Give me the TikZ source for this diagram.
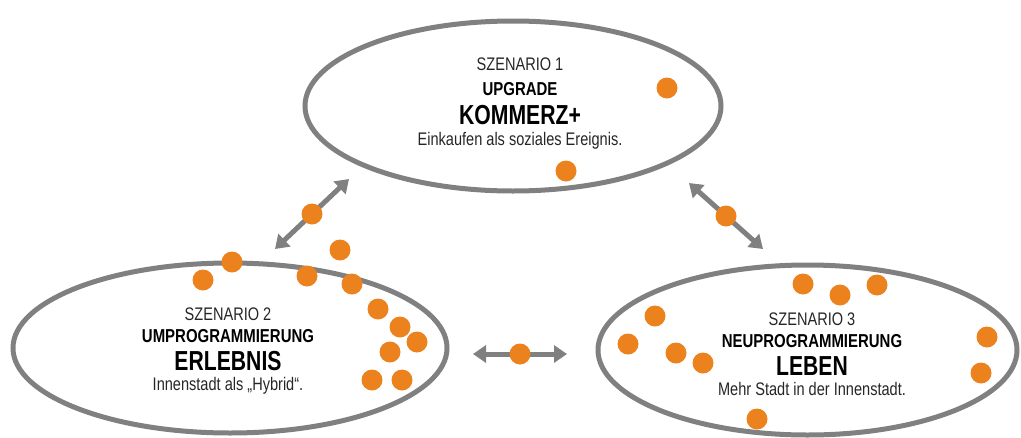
\documentclass[tikz,border=0pt]{standalone}
\usepackage{fontspec}
\setmainfont[FakeStretch=0.8]{Liberation Sans}
\newfontfamily\titlefont[FakeStretch=0.77]{Liberation Sans}
\usetikzlibrary{shapes.geometric,arrows.meta}
\definecolor{rimgray}{RGB}{128,128,128}
\definecolor{dotorange}{RGB}{236,130,30}
\definecolor{txtgray}{RGB}{38,38,38}

\begin{document}
\begin{tikzpicture}
  [x=1pt,y=-1pt,
  scen/.style={ellipse,draw=rimgray,line width=5pt,inner sep=0pt,
    minimum width=#1,minimum height=170pt},
  dot/.style={circle,fill=dotorange,inner sep=0pt,minimum size=21pt},
  arr/.style={draw=rimgray,line width=5pt,
    {Triangle[length=13pt,width=17pt]}-{Triangle[length=13pt,width=17pt]}},
  num/.style={anchor=base,text=txtgray,font=\fontsize{18.2}{20}\selectfont},
  sub/.style={anchor=base,text=black,font=\fontsize{18.7}{20}\selectfont\bfseries},
  title/.style={anchor=base,text=black,font=\titlefont\fontsize{27.5}{30}\selectfont\bfseries},
  desc/.style={anchor=base,text=txtgray,font=\fontsize{18.2}{20}\selectfont}]
  \useasboundingbox (0,0) rectangle (1021,437);

  % the three scenarios
  \node[scen=416pt] (s1) at (513,106) {};
  \node[scen=434pt] (s2) at (230,348) {};
  \node[scen=419pt] (s3) at (807.5,350) {};

  \node[num]   (s1num)   at (520,70)  {SZENARIO 1};
  \node[sub]   (s1sub)   at (520,95)  {UPGRADE};
  \node[title] (s1title) at (520,124) {KOMMERZ+};
  \node[desc]  (s1desc)  at (520,145) {Einkaufen als soziales Ereignis.};

  \node[num]   (s2num)   at (228,320) {SZENARIO 2};
  \node[sub]   (s2sub)   at (228,342) {UMPROGRAMMIERUNG};
  \node[title] (s2title) at (228,370) {ERLEBNIS};
  \node[desc]  (s2desc)  at (228,390) {Innenstadt als „Hybrid“.};

  \node[num]   (s3num)   at (812,325) {SZENARIO 3};
  \node[sub]   (s3sub)   at (812,347) {NEUPROGRAMMIERUNG};
  \node[title] (s3title) at (812,375) {LEBEN};
  \node[desc]  (s3desc)  at (812,395) {Mehr Stadt in der Innenstadt.};

  % transitions
  \coordinate (p21) at (275,249);
  \coordinate (p12) at (349,179);
  \coordinate (p13) at (689,183);
  \coordinate (p31) at (763,249);
  \coordinate (p23) at (473,354);
  \coordinate (p32) at (567,354);
  \draw[arr] (p21) -- node[dot] (k12) {} (p12);
  \draw[arr] (p13) -- node[dot] (k13) {} (p31);
  \draw[arr] (p23) -- node[dot] (k23) {} (p32);

  % dots, scenario 1
  \node[dot] (d1a) at (667,88) {};
  \node[dot] (d1b) at (566,171) {};

  % dots, scenario 2
  \node[dot] (d2a) at (203,280) {};
  \node[dot] (d2b) at (232,262) {};
  \node[dot] (d2c) at (307,276) {};
  \node[dot] (d2d) at (340,250) {};
  \node[dot] (d2e) at (352,284) {};
  \node[dot] (d2f) at (378,309) {};
  \node[dot] (d2g) at (400,327) {};
  \node[dot] (d2h) at (417,342) {};
  \node[dot] (d2i) at (390,352) {};
  \node[dot] (d2j) at (372,380) {};
  \node[dot] (d2k) at (402,380) {};

  % dots, scenario 3
  \node[dot] (d3a) at (655,316) {};
  \node[dot] (d3b) at (628,344) {};
  \node[dot] (d3c) at (676,353) {};
  \node[dot] (d3d) at (703,363) {};
  \node[dot] (d3e) at (757,419) {};
  \node[dot] (d3f) at (803,284) {};
  \node[dot] (d3g) at (840,295) {};
  \node[dot] (d3h) at (877,285) {};
  \node[dot] (d3i) at (987,337) {};
  \node[dot] (d3j) at (981,373) {};
\end{tikzpicture}
\end{document}
